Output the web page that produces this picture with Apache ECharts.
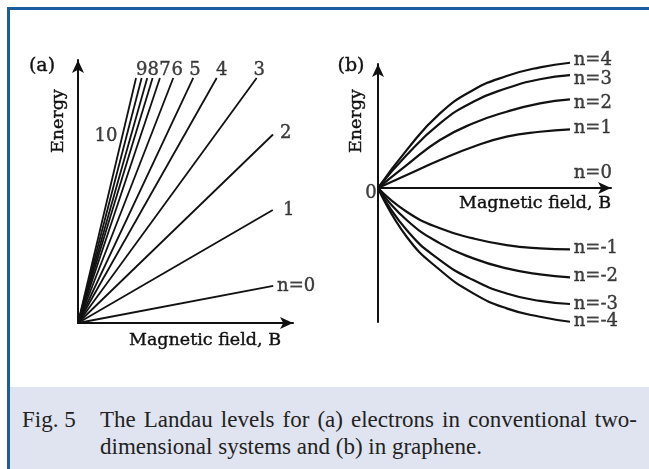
<!DOCTYPE html>
<html>
<head>
<meta charset="utf-8">
<script src="https://cdn.jsdelivr.net/npm/echarts@6/dist/echarts.min.js"></script>
<style>
  body { margin: 0; background: #fff; }
  #page { position: relative; width: 649px; height: 469px; overflow: hidden; background: #fff; }
  #frame-top { position: absolute; left: 7px; top: 7px; width: 642px; height: 3px; background: #1a5c9e; }
  #frame-left { position: absolute; left: 7px; top: 7px; width: 3px; height: 462px; background: #1a5c9e; }
  #caption { position: absolute; left: 10px; top: 387px; width: 639px; height: 82px; background: #e0e4f0;
             font-family: "Liberation Serif", "DejaVu Serif", serif; font-size: 23px; line-height: 27px; color: #222; }
  #fig-no { position: absolute; left: 12px; top: 19px; }
  .cap-line { position: absolute; left: 90px; width: 537px; white-space: nowrap; }
  .just { text-align: justify; text-align-last: justify; }
  #chart { position: absolute; left: 0; top: 0; width: 649px; height: 387px; }
</style>
</head>
<body>
<div id="page">
  <div id="frame-top"></div>
  <div id="frame-left"></div>
  <div id="caption">
    <div id="fig-no">Fig. 5</div>
    <div class="cap-line just" style="top:19px;">The Landau levels for (a) electrons in conventional two-</div>
    <div class="cap-line" style="top:46px;">dimensional systems and (b) in graphene.</div>
  </div>
  <div id="chart"></div>
</div>
<script>
  // (a) 常规二维电子：每条能级是一条过原点的直线，记录终点 [B, E]
  var levelsA = [0, 1, 2, 3, 4, 5, 6, 7, 8, 9, 10, 11];
  var endFieldA = [9.08, 9.06, 9.07, 8.31, 6.45, 5.36, 4.43, 3.81, 3.47, 3.22, 2.96, 2.70];
  var endEnergyA = [1.69, 5.16, 8.60, 11.18, 11.18, 11.18, 11.18, 11.18, 11.18, 11.18, 11.18, 11.18];

  // (a) 能级标注
  var labelTextA = ['n=0', '1', '2', '3', '4', '5', '6', '7', '8', '9', '10'];
  var labelFieldA = [9.26, 9.53, 9.40, 8.43, 6.68, 5.44, 4.62, 4.05, 3.50, 2.96, 1.30];
  var labelEnergyA = [1.69, 5.16, 8.65, 11.54, 11.54, 11.54, 11.54, 11.54, 11.54, 11.54, 8.50];
  var labelAlignA = ['left', 'left', 'left', 'center', 'center', 'center', 'center', 'center', 'center', 'center', 'center'];

  // (b) 石墨烯：沿磁场读取的曲线点
  var fieldB = [0, 1.23, 2.66, 4.09, 5.52, 6.95, 8.24];
  var levelNamesB = ['n=4', 'n=3', 'n=2', 'n=1', 'n=-1', 'n=-2', 'n=-3', 'n=-4'];
  var energyN4 = [0, 3.06, 6.02, 7.90, 9.03, 9.73, 10.10];
  var energyN3 = [0, 2.66, 5.22, 6.96, 8.04, 8.77, 9.11];
  var energyN2 = [0, 1.85, 3.87, 5.22, 6.15, 6.83, 7.15];
  var energyN1 = [0, 1.05, 2.26, 3.33, 4.14, 4.54, 4.73];
  var energyM1 = [0, -1.91, -3.25, -4.06, -4.60, -4.86, -4.94];
  var energyM2 = [0, -2.58, -4.46, -5.67, -6.48, -6.96, -7.20];
  var energyM3 = [0, -3.39, -5.81, -7.42, -8.50, -9.10, -9.35];
  var energyM4 = [0, -3.93, -6.61, -8.49, -9.70, -10.38, -10.78];
  var energyB = [energyN4, energyN3, energyN2, energyN1, energyM1, energyM2, energyM3, energyM4];

  // (b) 能级标注
  var labelTextB = ['n=4', 'n=3', 'n=2', 'n=1', 'n=0', 'n=-1', 'n=-2', 'n=-3', 'n=-4', '0'];
  var labelFieldB = [8.40, 8.40, 8.40, 8.40, 8.40, 8.40, 8.40, 8.40, 8.40, -0.30];
  var labelEnergyB = [10.27, 8.77, 6.83, 4.81, 1.21, -4.84, -7.15, -9.35, -10.78, -0.40];
  var labelAlignB = ['left', 'left', 'left', 'left', 'left', 'left', 'left', 'left', 'left', 'center'];

  var serif = '"DejaVu Serif", "Liberation Serif", serif';
  var ink = '#111';

  function axisCommon(extra) {
    var a = {
      type: 'value',
      axisLine: {
        show: true,
        onZero: true,
        symbol: ['none', 'arrow'],
        symbolSize: [9, 13],
        lineStyle: { color: ink, width: 2 }
      },
      axisTick: { show: false },
      axisLabel: { show: false },
      splitLine: { show: false }
    };
    return Object.assign(a, extra);
  }

  function labelSeries(name, xIdx, yIdx, texts, xs, ys, aligns) {
    return {
      name: name,
      type: 'scatter',
      xAxisIndex: xIdx,
      yAxisIndex: yIdx,
      symbolSize: 0,
      clip: false,
      silent: true,
      data: texts.map(function (t, i) {
        return {
          value: [xs[i], ys[i]],
          label: {
            show: true,
            position: 'inside',
            formatter: t,
            align: aligns[i],
            verticalAlign: 'middle',
            color: ink,
            fontFamily: serif,
            fontSize: 18,
            textBorderColor: ink,
            textBorderWidth: 0.4
          }
        };
      })
    };
  }

  var series = [];

  // (a) 直线
  levelsA.forEach(function (n, i) {
    series.push({
      name: 'a-' + n,
      type: 'line',
      xAxisIndex: 0,
      yAxisIndex: 0,
      symbol: 'none',
      clip: false,
      lineStyle: { color: ink, width: 1.8 },
      data: [[0, 0], [endFieldA[i], endEnergyA[i]]]
    });
  });

  // (b) 曲线
  levelNamesB.forEach(function (n, i) {
    series.push({
      name: n,
      type: 'line',
      xAxisIndex: 1,
      yAxisIndex: 1,
      symbol: 'none',
      smooth: true,
      clip: false,
      lineStyle: { color: ink, width: 2.2 },
      data: fieldB.map(function (b, j) { return [b, energyB[i][j]]; })
    });
  });

  series.push(labelSeries('labels-a', 0, 0, labelTextA, labelFieldA, labelEnergyA, labelAlignA));
  series.push(labelSeries('labels-b', 1, 1, labelTextB, labelFieldB, labelEnergyB, labelAlignB));

  function txt(text, x, y, size, rot) {
    return {
      type: 'text',
      x: x,
      y: y,
      rotation: rot || 0,
      silent: true,
      style: {
        text: text,
        x: 0,
        y: 0,
        fill: ink,
        stroke: ink,
        lineWidth: 0.4,
        font: size + 'px ' + serif,
        textAlign: 'center',
        textVerticalAlign: 'middle'
      }
    };
  }

  var chart = echarts.init(document.getElementById('chart'));
  chart.setOption({
    animation: false,
    backgroundColor: 'transparent',
    grid: [
      { left: 78, top: 60, width: 215, height: 263 },
      { left: 378, top: 64, width: 233, height: 258 }
    ],
    xAxis: [
      axisCommon({ gridIndex: 0, min: 0, max: 10 }),
      axisCommon({ gridIndex: 1, min: 0, max: 10 })
    ],
    yAxis: [
      axisCommon({ gridIndex: 0, min: 0, max: 12 }),
      axisCommon({ gridIndex: 1, min: -10.8, max: 10 })
    ],
    graphic: [
      txt('(a)', 42, 66, 19),
      txt('(b)', 351, 66, 19),
      txt('Energy', 58, 121, 17.5, Math.PI / 2),
      txt('Energy', 356, 121, 17.5, Math.PI / 2),
      txt('Magnetic field, B', 205, 340, 17.5),
      txt('Magnetic field, B', 535, 203, 17.5)
    ],
    series: series
  });
</script>
</body>
</html>
